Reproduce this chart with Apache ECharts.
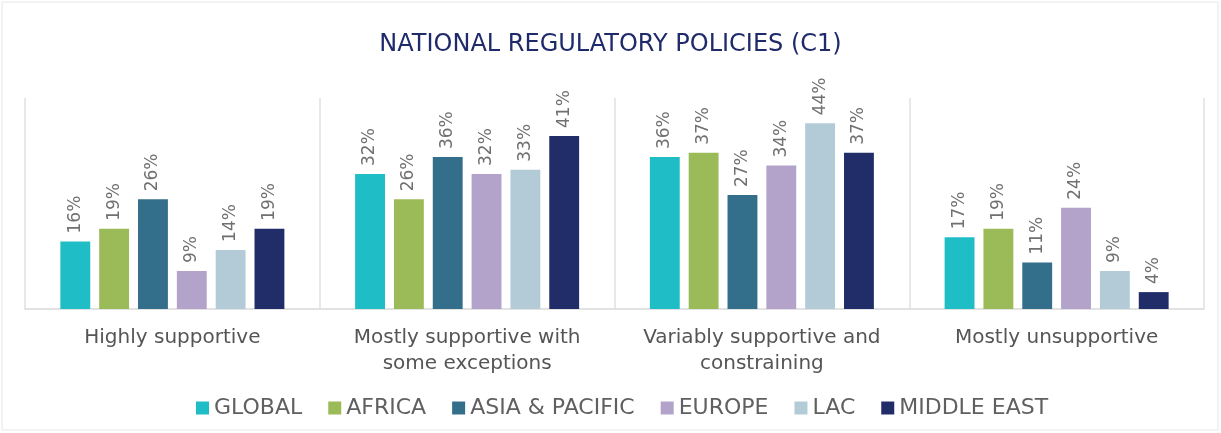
<!DOCTYPE html>
<html>
<head>
<meta charset="utf-8">
<script src="https://cdn.jsdelivr.net/npm/echarts@6/dist/echarts.min.js"></script>
<style>
    html, body { margin: 0; padding: 0; background: #fff; }
    #chart { width: 1221px; height: 433px; }
</style>
</head>
<body>
<div id="chart"></div>
<script>
    // categories along the axis
    var categories = [
        'Highly supportive',
        'Mostly supportive with\nsome exceptions',
        'Variably supportive and\nconstraining',
        'Mostly unsupportive'
    ];

    // regions (one series each), values in %
    var regions = ['GLOBAL', 'AFRICA', 'ASIA & PACIFIC', 'EUROPE', 'LAC', 'MIDDLE EAST'];
    var colors = ['#1fbdc6', '#9bbb59', '#336e8a', '#b3a2c9', '#b3cbd7', '#212d68'];

    var globalVals = [16, 32, 36, 17];
    var africaVals = [19, 26, 37, 19];
    var asiaVals = [26, 36, 27, 11];
    var europeVals = [9, 32, 34, 24];
    var lacVals = [14, 33, 44, 9];
    var middleEastVals = [19, 41, 37, 4];

    var values = [globalVals, africaVals, asiaVals, europeVals, lacVals, middleEastVals];

    var myChart = echarts.init(document.getElementById('chart'));

    var series = regions.map(function (name, i) {
        return {
            type: 'bar',
            name: name,
            data: values[i],
            barGap: '30%',
            barCategoryGap: '24%',
            itemStyle: { color: colors[i] },
            label: {
                show: true,
                position: 'top',
                rotate: 90,
                align: 'left',
                verticalAlign: 'middle',
                distance: 8,
                formatter: '{c}%',
                color: '#707070',
                fontSize: 17,
                fontFamily: 'DejaVu Sans'
            }
        };
    });

    var option = {
        animation: false,
        title: {
            text: 'NATIONAL REGULATORY POLICIES (C1)',
            left: 'center',
            top: 28,
            textStyle: {
                color: '#1f2a6b',
                fontSize: 24,
                fontWeight: 'normal',
                fontFamily: 'DejaVu Sans'
            }
        },
        legend: {
            data: regions.map(function (r) { return { name: r, icon: 'rect' }; }),
            top: 392,
            left: 191,
            itemWidth: 13,
            itemHeight: 13,
            itemGap: 26,
            textStyle: {
                color: '#606060',
                fontSize: 22,
                fontFamily: 'DejaVu Sans'
            }
        },
        graphic: [{
            type: 'rect',
            shape: { x: 2, y: 2, width: 1216, height: 428 },
            style: { fill: 'none', stroke: '#e6e6e6', lineWidth: 1 },
            silent: true
        }],
        grid: {
            left: 25,
            right: 17,
            top: 98,
            bottom: 124
        },
        xAxis: {
            type: 'category',
            data: categories,
            axisLine: { lineStyle: { color: '#d9d9d9', width: 1.5 } },
            axisTick: { show: false },
            splitLine: { show: true, interval: 0, lineStyle: { color: '#e0e0e0', width: 1.5 } },
            axisLabel: {
                interval: 0,
                margin: 16,
                color: '#555555',
                fontSize: 20,
                lineHeight: 26,
                fontFamily: 'DejaVu Sans'
            }
        },
        yAxis: {
            type: 'value',
            min: 0,
            max: 50,
            show: false
        },
        series: series
    };

    myChart.setOption(option);
</script>
</body>
</html>
